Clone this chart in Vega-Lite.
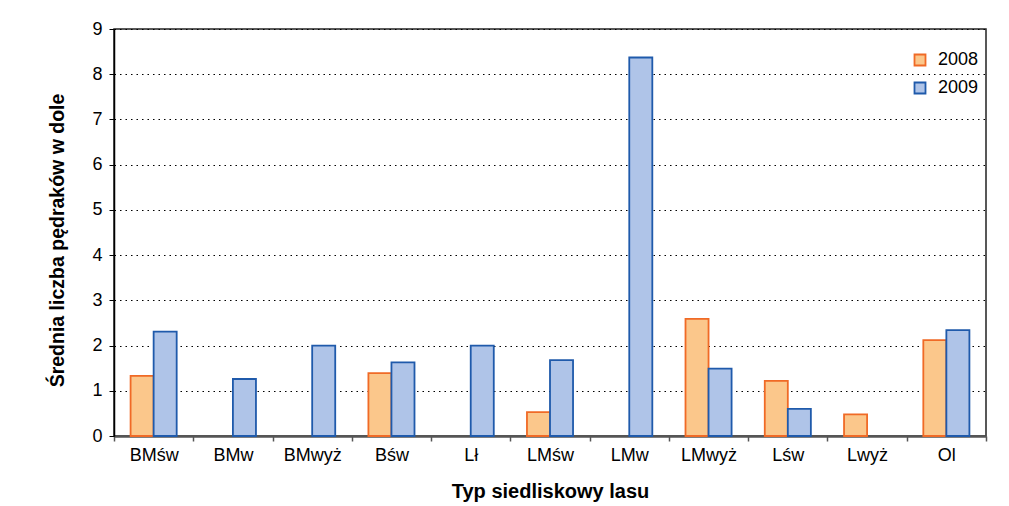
{
  "$schema": "https://vega.github.io/schema/vega-lite/v6.json",
  "width": 872,
  "height": 407,
  "autosize": {"type": "none"},
  "padding": {"left": 114, "top": 29, "right": 23, "bottom": 70},
  "background": "#ffffff",
  "config": {
    "font": "Liberation Sans",
    "view": {"stroke": "#222222", "strokeWidth": 1.5},
    "axis": {"labelColor": "#000000", "titleColor": "#000000", "labelFont": "Liberation Sans", "titleFont": "Liberation Sans"}
  },
  "data": {
    "values": [
      {"typ": "BMśw", "rok": "2008", "wartosc": 1.33},
      {"typ": "BMśw", "rok": "2009", "wartosc": 2.31},
      {"typ": "BMw", "rok": "2009", "wartosc": 1.26},
      {"typ": "BMwyż", "rok": "2009", "wartosc": 2.0},
      {"typ": "Bśw", "rok": "2008", "wartosc": 1.39},
      {"typ": "Bśw", "rok": "2009", "wartosc": 1.63},
      {"typ": "Lł", "rok": "2009", "wartosc": 2.0},
      {"typ": "LMśw", "rok": "2008", "wartosc": 0.53},
      {"typ": "LMśw", "rok": "2009", "wartosc": 1.68},
      {"typ": "LMw", "rok": "2009", "wartosc": 8.37},
      {"typ": "LMwyż", "rok": "2008", "wartosc": 2.59},
      {"typ": "LMwyż", "rok": "2009", "wartosc": 1.49},
      {"typ": "Lśw", "rok": "2008", "wartosc": 1.22},
      {"typ": "Lśw", "rok": "2009", "wartosc": 0.6},
      {"typ": "Lwyż", "rok": "2008", "wartosc": 0.48},
      {"typ": "Ol", "rok": "2008", "wartosc": 2.12},
      {"typ": "Ol", "rok": "2009", "wartosc": 2.34}
    ]
  },
  "mark": {"type": "bar", "strokeWidth": 1.8},
  "encoding": {
    "x": {
      "field": "typ",
      "type": "nominal",
      "sort": ["BMśw", "BMw", "BMwyż", "Bśw", "Lł", "LMśw", "LMw", "LMwyż", "Lśw", "Lwyż", "Ol"],
      "scale": {"paddingInner": 0, "paddingOuter": 0},
      "axis": {
        "title": "Typ siedliskowy lasu",
        "titleFontSize": 20,
        "titleFontWeight": "bold",
        "titleY": 55,
        "titleBaseline": "middle",
        "labelAngle": 0,
        "labelFontSize": 18,
        "labelPadding": 5,
        "tickBand": "extent",
        "tickSize": 5,
        "tickColor": "#555555",
        "tickWidth": 1.5,
        "domainColor": "#555555",
        "domainWidth": 2.5,
        "grid": false
      }
    },
    "xOffset": {
      "field": "rok",
      "type": "nominal",
      "scale": {"domain": ["2008", "2009"], "paddingInner": 0, "paddingOuter": 0.72}
    },
    "y": {
      "field": "wartosc",
      "type": "quantitative",
      "scale": {"domain": [0, 9], "nice": false},
      "axis": {
        "title": "Średnia liczba pędraków w dole",
        "titleFontSize": 19.5,
        "titleFontWeight": "bold",
        "titleX": -57,
        "titleY": 211,
        "titleBaseline": "middle",
        "values": [0, 1, 2, 3, 4, 5, 6, 7, 8, 9],
        "labelFontSize": 18,
        "labelPadding": 7,
        "tickSize": 5,
        "tickColor": "#000000",
        "domainColor": "#000000",
        "domainWidth": 1.5,
        "grid": true,
        "gridColor": "#000000",
        "gridDash": [1.5, 4],
        "gridWidth": 1.2
      }
    },
    "fill": {
      "field": "rok",
      "type": "nominal",
      "scale": {"domain": ["2008", "2009"], "range": ["#FBC78B", "#AFC4E8"]},
      "legend": {
        "title": null,
        "orient": "none",
        "legendX": 797,
        "legendY": 22,
        "padding": 0,
        "symbolType": "square",
        "symbolSize": 121,
        "symbolStrokeWidth": 1.8,
        "labelFontSize": 18,
        "labelColor": "#000000",
        "labelOffset": 9,
        "rowPadding": 8
      }
    },
    "stroke": {
      "field": "rok",
      "type": "nominal",
      "scale": {"domain": ["2008", "2009"], "range": ["#F06A26", "#1F5AAB"]},
      "legend": {
        "title": null,
        "orient": "none",
        "legendX": 797,
        "legendY": 22,
        "padding": 0,
        "symbolType": "square",
        "symbolSize": 121,
        "symbolStrokeWidth": 1.8,
        "labelFontSize": 18,
        "labelColor": "#000000",
        "labelOffset": 9,
        "rowPadding": 8
      }
    }
  }
}
